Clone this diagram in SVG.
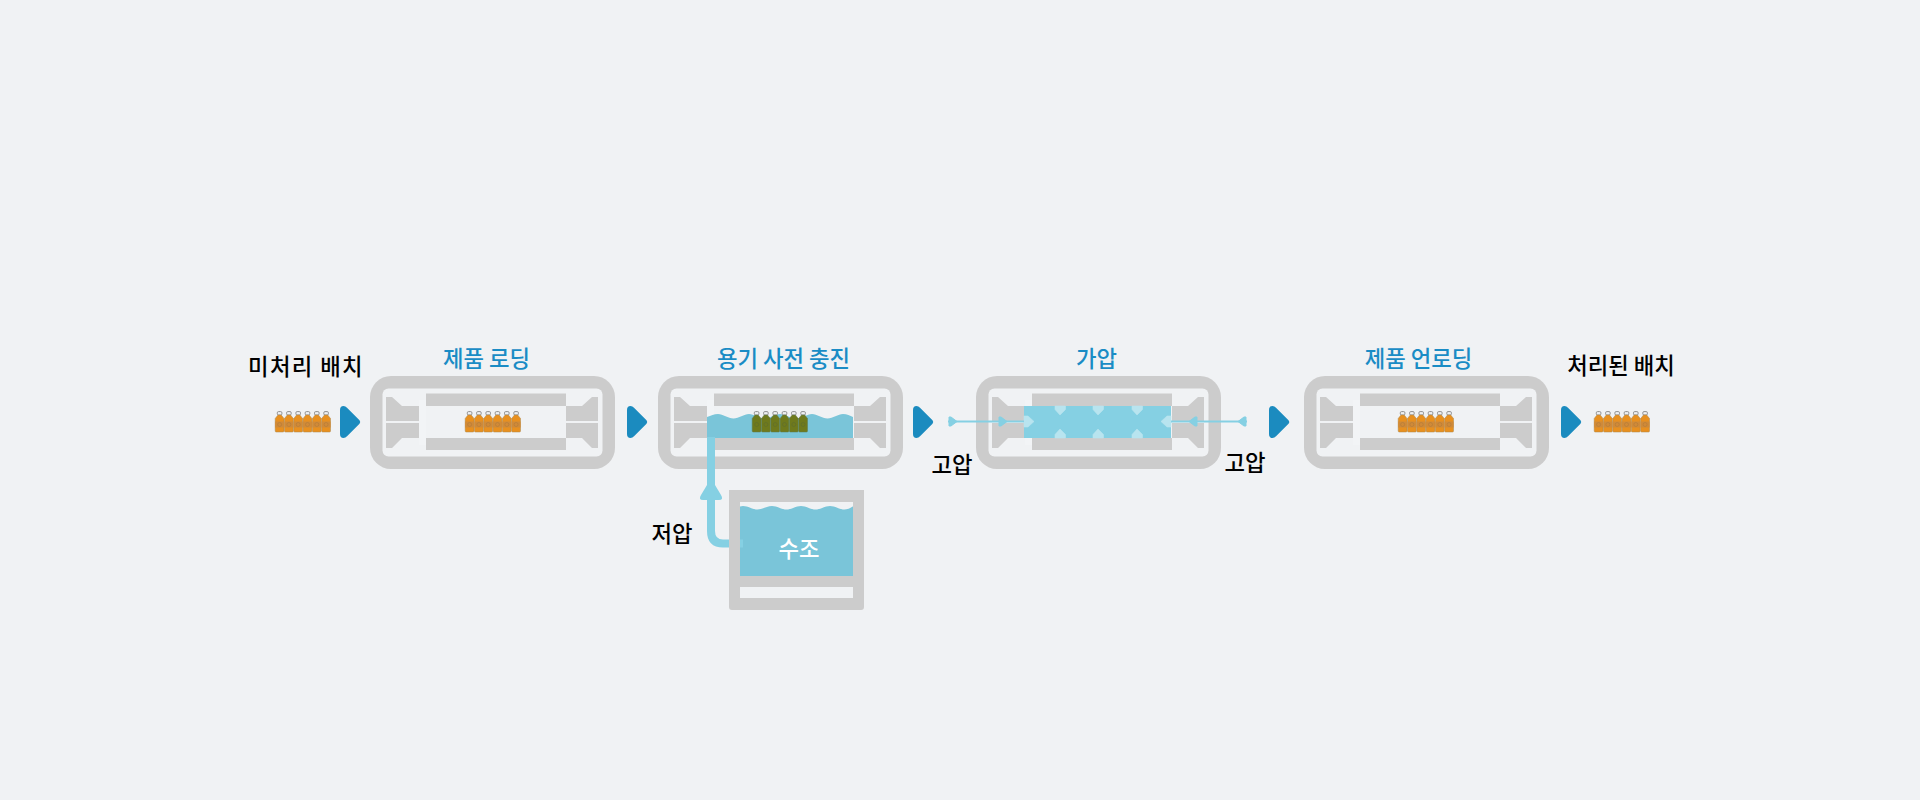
<svg xmlns="http://www.w3.org/2000/svg" width="1920" height="800" viewBox="0 0 1920 800">
<style>
text{font-family:"Noto Sans CJK KR","Noto Sans",sans-serif;font-weight:500;font-size:22.3px;text-anchor:middle}
.k{fill:#000}
.b{fill:#1a8cc5}
.g{fill:#cccccc}
.ar{fill:#1b8bbf}
.line{stroke:#85d0e3;stroke-width:2;fill:none}
.hd{fill:#85d0e3;stroke:#85d0e3;stroke-width:1;stroke-linejoin:round}
.mk{fill:#b8e4ef;stroke:#b8e4ef;stroke-width:.6;stroke-linejoin:round}
</style>
<defs>
<g id="vessel">
<rect width="245" height="93" rx="21" fill="#cccccc"/>
<rect x="12.500" y="12.500" width="220" height="68" rx="6" fill="#f0f2f4"/>
<rect x="49" y="24" width="7" height="45" fill="#f2f4f6"/>
<rect class="g" x="56" y="17.500" width="140" height="12.500"/>
<rect class="g" x="56" y="62" width="140" height="12"/>
<path class="g" d="M16 21H22L32 30H49V45H16Z"/>
<path class="g" d="M16 47H49V62H32L22 72H16Z"/>
<path class="g" d="M228 21H222L212 30H196V45H228Z"/>
<path class="g" d="M228 47H196V62H212L222 72H228Z"/>
</g>
<g id="bottle">
<rect x="2.300" y="0.600" width="4.600" height="3.400" rx="1.200" fill="#eef0f2" stroke="#8f8f8f" stroke-width="1"/>
<path d="M3 4H6.200L9 7.500V20Q9 21 8 21H1.200Q0.200 21 0.200 20V7.500Z" fill="#e8901f" stroke="#a8864f" stroke-width="0.500"/>
<rect x="0.200" y="10.500" width="8.800" height="6" fill="#d08a38"/>
<circle cx="4.600" cy="13.500" r="2" fill="none" stroke="#b07a3a" stroke-width="0.600"/>
</g>
<g id="bottles">
<use href="#bottle" x="0"/><use href="#bottle" x="9.300"/><use href="#bottle" x="18.600"/><use href="#bottle" x="27.900"/><use href="#bottle" x="37.200"/><use href="#bottle" x="46.500"/>
</g>
<g id="bottleG">
<rect x="2.300" y="0.600" width="4.600" height="3.400" rx="1.200" fill="#eef0f2" stroke="#8f8f8f" stroke-width="1"/>
<path d="M3 4H6.200L9 7.500V20Q9 21 8 21H1.200Q0.200 21 0.200 20V7.500Z" fill="#6f7a1c" stroke="#5f7a50" stroke-width="0.500"/>
<circle cx="4.600" cy="13.500" r="2" fill="none" stroke="#5c6b30" stroke-width="0.600"/>
</g>
<path id="arrow" d="M0 4Q0 0 3.500 0Q5.500 0 7 1.800L19.500 14.200Q21 16 19.500 17.800L7 30.200Q5.500 32 3.500 32Q0 32 0 28Z"/>
</defs>
<rect width="1920" height="800" fill="#f0f2f4"/>

<g id="connectors">
<use href="#arrow" class="ar" x="340" y="406"/>
<use href="#arrow" class="ar" x="627" y="406"/>
<use href="#arrow" class="ar" x="913" y="406"/>
<use href="#arrow" class="ar" x="1269" y="406"/>
<use href="#arrow" class="ar" x="1561" y="406"/>
</g>

<g id="batch-in">
<text class="k" x="306" y="375" letter-spacing="1.400">미처리 배치</text>
<use href="#bottles" x="275" y="411"/>
</g>

<g id="loading">
<use href="#vessel" x="370" y="376"/>
<use href="#bottles" x="465" y="411"/>
<text class="b" x="486.500" y="366.500">제품 로딩</text>
</g>

<g id="prefill">
<use href="#vessel" x="658" y="376"/>
<path d="M707 417C711 415.500 714 414 718 414C723 414 728 418.500 733.500 418.500C739 418.500 744 414 749 414C754 414 759 418.500 764.500 418.500C770 418.500 775 414 780 414C785 414 790 418.500 796 418.500C802 418.500 807 414 812 414C817 414 822 418.500 827.500 418.500C833 418.500 838 414 843 414C847 414 850 415.500 853 417V438H707Z" fill="#7ac5d9"/>
<use href="#bottleG" x="752" y="411"/><use href="#bottleG" x="761.300" y="411"/><use href="#bottleG" x="770.600" y="411"/><use href="#bottleG" x="779.900" y="411"/><use href="#bottleG" x="789.200" y="411"/><use href="#bottleG" x="798.500" y="411"/>
<text class="b" x="783.500" y="366.500">용기 사전 충진</text>
</g>

<g id="pipe">
<path d="M711 437V531Q711 543.500 723 543.500H743" fill="none" stroke="#85d0e3" stroke-width="8"/>
<path d="M707 485H715L721 495Q724 500 719 500H703Q698 500 701 495Z" fill="#85d0e3"/>
</g>

<g id="tank">
<path class="g" d="M729 490H864V607Q864 610 861 610H732Q729 610 729 607Z"/>
<rect x="740" y="502" width="113" height="96" fill="#f0f2f4"/>
<path d="M740 506.500L743 506C748 506 752.500 509.500 757.500 509.500C762.500 509.500 767 506 772 506C777 506 781.500 509.500 786.500 509.500C791.500 509.500 796 506 801 506C806 506 810.500 509.500 815.500 509.500C820.500 509.500 825 506 830 506C835 506 839.500 509.500 844.500 509.500C849 509.500 851 507 853 506.500V576H740Z" fill="#7ac5d9"/>
<rect class="g" x="740" y="576" width="113" height="11"/>
<rect x="740" y="539.500" width="3" height="8" fill="#85d0e3"/>
<text x="799" y="557" fill="#ffffff">수조</text>
</g>
<text id="low-pressure" class="k" x="672" y="542">저압</text>

<g id="pressurize">
<use href="#vessel" x="976" y="376"/>
<rect x="1024" y="406" width="147" height="32" fill="#85d0e3"/>
<path class="mk" d="M1055 406H1065.500V409.500L1060 415L1055 409.500ZM1093 406H1103.500V409.500L1098 415L1093 409.500ZM1132 406H1142.500V409.500L1137 415L1132 409.500Z"/>
<path class="mk" d="M1060 429L1065.500 434.500V438H1055V434.500ZM1098 429L1103.500 434.500V438H1093V434.500ZM1137 429L1142.500 434.500V438H1132V434.500Z"/>
<path class="mk" d="M1024 416H1028L1034 421.500L1028 427H1024ZM1171 416H1167L1161 421.500L1167 427H1171Z"/>
<text class="b" x="1096.500" y="366.500">가압</text>
<path class="line" d="M948 421.500H1024"/>
<path class="hd" d="M949 417H951L957 421.500L951 426H949ZM999 417H1001L1007 421.500L1001 426H999Z"/>
<path class="line" d="M1171 421.500H1247"/>
<path class="hd" d="M1197 417H1195L1189 421.500L1195 426H1197ZM1246 417H1244L1238 421.500L1244 426H1246Z"/>
</g>
<text id="hp-left" class="k" x="952" y="473">고압</text>
<text id="hp-right" class="k" x="1245" y="471">고압</text>

<g id="unloading">
<use href="#vessel" x="1304" y="376"/>
<use href="#bottles" x="1398" y="411"/>
<text class="b" x="1418.500" y="366.500">제품 언로딩</text>
</g>

<g id="batch-out">
<text class="k" x="1621" y="374">처리된 배치</text>
<use href="#bottles" x="1594" y="411"/>
</g>
</svg>
